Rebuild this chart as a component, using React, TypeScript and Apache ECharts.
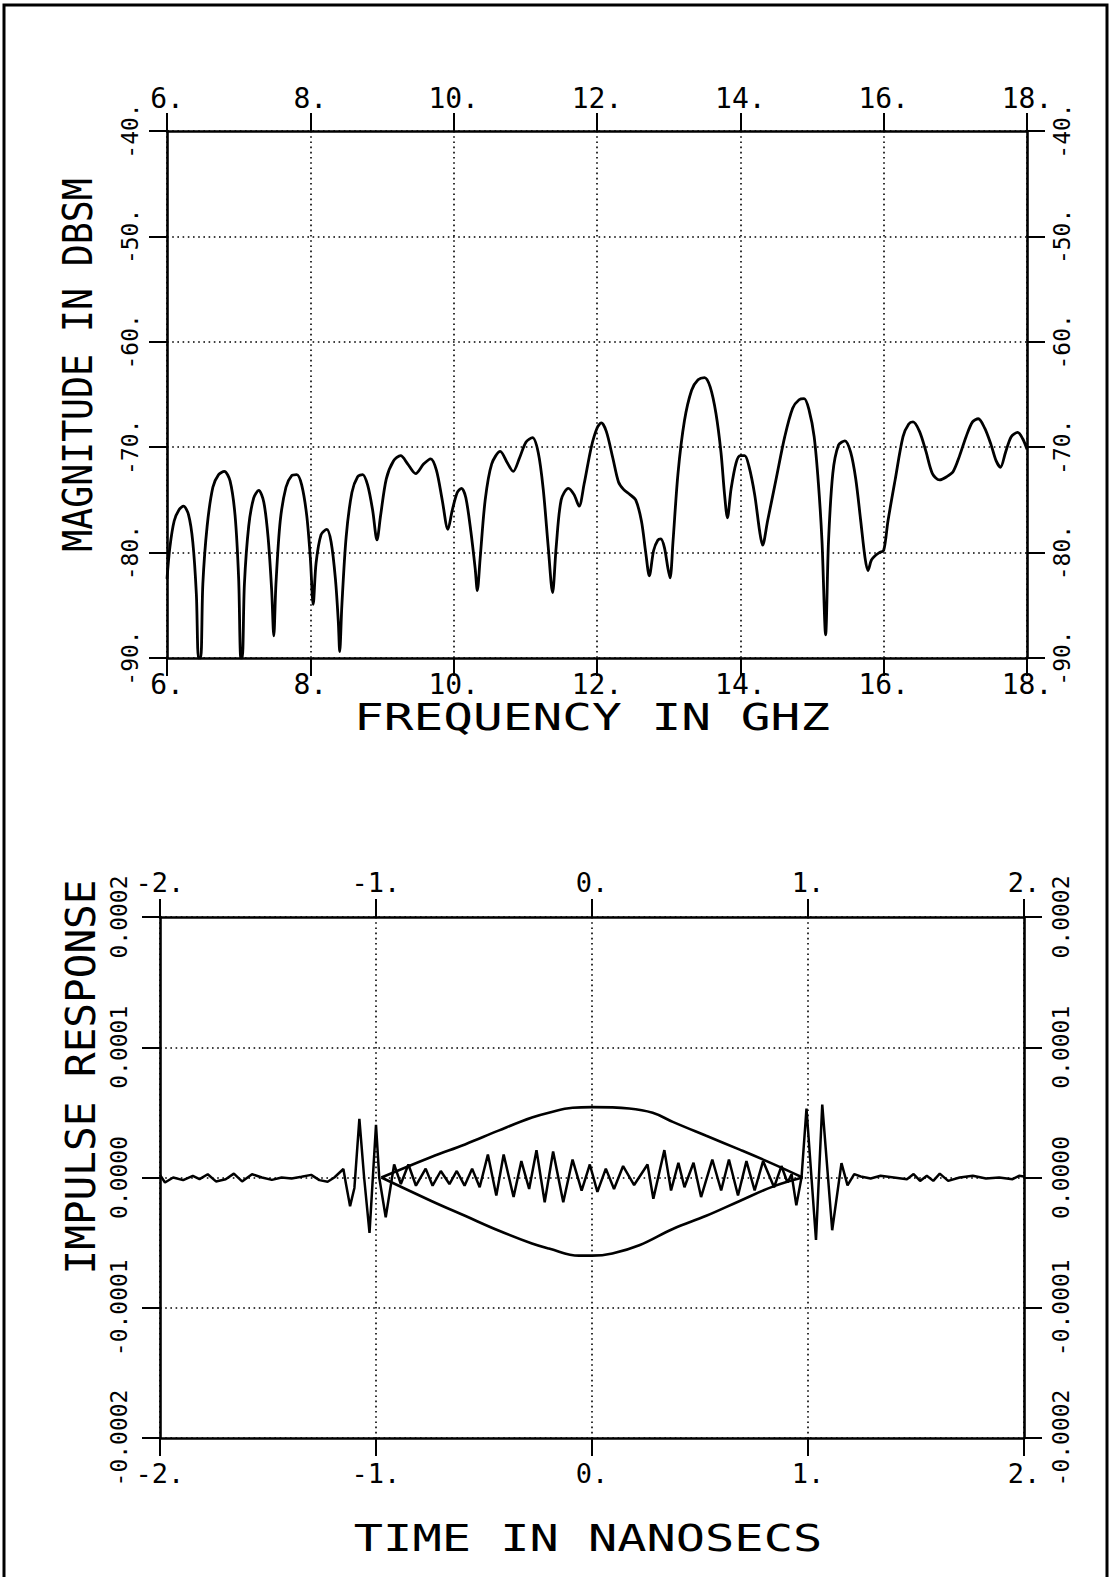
import React, { useEffect, useRef } from "react";
import * as echarts from "echarts";

const FONT = "'DejaVu Sans Mono', 'Liberation Mono', monospace";

// ---------- Top panel: magnitude vs frequency ----------
const freqGHz = [
  6.0, 6.04, 6.1, 6.17, 6.23, 6.3, 6.36, 6.41, 6.44, 6.47, 6.5, 6.56, 6.64, 6.72, 6.8, 6.88, 6.95, 7.0, 7.03, 7.05,
  7.08, 7.14, 7.21, 7.28, 7.35, 7.41, 7.46, 7.49, 7.52, 7.58, 7.66, 7.74, 7.81, 7.88, 7.95, 8.0, 8.04, 8.08, 8.15, 8.23,
  8.29, 8.35, 8.39, 8.41, 8.44, 8.5, 8.58, 8.66, 8.73, 8.8, 8.87, 8.93, 8.98, 9.06, 9.16, 9.26, 9.36, 9.47, 9.58, 9.68,
  9.76, 9.84, 9.92, 9.98, 10.05, 10.11, 10.17, 10.24, 10.3, 10.33, 10.37, 10.44, 10.53, 10.65, 10.75, 10.83, 10.92, 11.01, 11.1, 11.18,
  11.25, 11.32, 11.38, 11.43, 11.5, 11.6, 11.68, 11.75, 11.82, 11.92, 12.0, 12.06, 12.13, 12.22, 12.3, 12.37, 12.46, 12.54, 12.62, 12.68,
  12.73, 12.79, 12.85, 12.89, 12.94, 12.99, 13.02, 13.06, 13.13, 13.22, 13.32, 13.41, 13.5, 13.58, 13.66, 13.73, 13.78, 13.82, 13.87, 13.94,
  14.0, 14.06, 14.12, 14.2, 14.27, 14.31, 14.38, 14.5, 14.62, 14.73, 14.82, 14.89, 14.96, 15.03, 15.09, 15.14, 15.19, 15.23, 15.29, 15.37,
  15.46, 15.54, 15.61, 15.68, 15.74, 15.78, 15.83, 15.88, 15.94, 16.0, 16.06, 16.16, 16.27, 16.35, 16.41, 16.5, 16.59, 16.68, 16.78, 16.88,
  16.97, 17.06, 17.15, 17.24, 17.32, 17.41, 17.5, 17.57, 17.63, 17.7, 17.78, 17.87, 17.94, 18.0,
];
const magDbsm = [
  -82.5, -79.5, -77.0, -75.9, -75.6, -76.4, -79.0, -84.0, -90.0, -90.0, -83.0, -77.5, -73.8, -72.6, -72.3, -73.2, -76.5, -82.5, -90.0, -90.0,
  -83.0, -77.5, -74.8, -74.1, -75.2, -78.5, -83.5, -87.9, -83.0, -77.0, -73.8, -72.7, -72.6, -73.6, -76.5, -80.5, -84.9, -81.0, -78.3, -77.8,
  -79.0, -82.5, -86.5, -89.4, -85.0, -78.5, -74.3, -72.8, -72.6, -73.6, -76.0, -78.8, -76.5, -73.0, -71.3, -70.8, -71.6, -72.5, -71.6, -71.1,
  -72.2, -75.0, -77.8, -76.0, -74.3, -73.9, -74.8, -78.0, -81.5, -83.6, -80.5, -75.0, -71.6, -70.4, -71.5, -72.3, -71.0, -69.5, -69.1, -70.5,
  -74.0, -79.5, -83.8, -79.5, -75.0, -73.9, -74.5, -75.6, -73.5, -70.0, -68.2, -67.7, -68.5, -71.0, -73.3, -74.0, -74.5, -75.0, -77.0, -80.0,
  -82.2, -79.8, -78.8, -78.7, -79.5, -81.5, -82.4, -79.0, -72.5, -67.5, -64.6, -63.6, -63.4, -64.3, -66.8, -70.5, -74.5, -76.7, -74.0, -71.5,
  -70.8, -70.8, -71.8, -74.5, -78.0, -79.3, -77.0, -73.0, -69.0, -66.3, -65.5, -65.4, -66.5, -69.0, -73.5, -79.0, -87.8, -79.0, -72.5, -69.8,
  -69.4, -70.5, -73.0, -77.0, -80.5, -81.7, -80.7, -80.3, -80.0, -79.8, -77.0, -73.1, -69.0, -67.8, -67.6, -68.5, -70.4, -72.5, -73.1, -72.8,
  -72.3, -70.8, -69.0, -67.6, -67.3, -68.2, -69.8, -71.3, -71.9, -70.5, -69.0, -68.6, -69.2, -70.2,
];
const freqAxis = { min: 6, max: 18, step: 2 };
const magAxis = { min: -90, max: -40, step: 10 };

// ---------- Bottom panel: impulse response vs time ----------
const timeNs = [
  -2.0, -1.977, -1.939, -1.893, -1.848, -1.817, -1.779, -1.741, -1.696, -1.658, -1.62, -1.574, -1.528, -1.482, -1.437, -1.391, -1.345, -1.3, -1.262, -1.224,
  -1.193, -1.151, -1.14, -1.12, -1.1, -1.077, -1.055, -1.03, -1.0, -0.985, -0.955, -0.916, -0.885, -0.85, -0.815, -0.77, -0.738, -0.7, -0.66, -0.626,
  -0.59, -0.555, -0.52, -0.482, -0.443, -0.409, -0.363, -0.327, -0.291, -0.257, -0.219, -0.18, -0.133, -0.09, -0.048, -0.01, 0.025, 0.064, 0.102, 0.144,
  0.195, 0.257, 0.284, 0.335, 0.366, 0.4, 0.428, 0.47, 0.505, 0.557, 0.598, 0.634, 0.676, 0.715, 0.753, 0.792, 0.843, 0.877, 0.905, 0.924,
  0.946, 0.97, 0.993, 1.037, 1.066, 1.112, 1.155, 1.183, 1.214, 1.244, 1.29, 1.336, 1.397, 1.458, 1.489, 1.519, 1.55, 1.58, 1.61, 1.649,
  1.702, 1.763, 1.824, 1.885, 1.947, 1.977, 2.0,
];
const impulseResp = [
  2.0e-6, -3.8e-6, 0, -2.0e-6, 1.3e-6, -1.3e-6, 2.5e-6, -3.0e-6, -1.3e-6, 3.0e-6, -3.0e-6, 2.5e-6, 0, -1.8e-6, 0, -0.8e-6, 0.5e-6, 2.0e-6, -2.0e-6, -3.3e-6,
  0, 6.5e-6, -4.0e-6, -2.2e-5, -8.0e-6, 4.5e-5, 0, -4.25e-5, 4.05e-5, 0, -3.05e-5, 1.0e-5, -5.0e-6, 1.0e-5, -6.3e-6, 6.8e-6, -6.3e-6, 5.0e-6, -5.0e-6, 5.0e-6,
  -6.3e-6, 6.8e-6, -7.5e-6, 1.76e-5, -1.38e-5, 1.76e-5, -1.5e-5, 1.26e-5, -8.8e-6, 2.1e-5, -1.9e-5, 2.0e-5, -1.9e-5, 1.38e-5, -1.0e-5, 1.0e-5, -1.1e-5, 6.8e-6, -8.8e-6, 8.8e-6,
  -5.8e-6, 1.0e-5, -1.63e-5, 2.1e-5, -1.0e-5, 1.13e-5, -7.5e-6, 1.13e-5, -1.5e-5, 1.38e-5, -1.0e-5, 1.38e-5, -1.38e-5, 1.26e-5, -1.0e-5, 1.26e-5, -7.5e-6, 8.8e-6, -3.8e-6, 2.5e-6,
  -2.14e-5, 0, 5.3e-5, -4.8e-5, 5.6e-5, -4.05e-5, 1.1e-5, -6.0e-6, 2.6e-6, 0.8e-6, -0.8e-6, 1.3e-6, 0, -1.3e-6, 2.6e-6, -2.6e-6, 1.3e-6, -2.6e-6, 3.0e-6, -2.6e-6,
  0, 1.3e-6, -0.8e-6, 0, -1.3e-6, 1.3e-6, 0.8e-6,
];
const envUpperTime = [-0.975, -0.744, -0.588, -0.433, -0.278, -0.2, -0.09, 0.0, 0.172, 0.281, 0.374, 0.529, 0.684, 0.84, 0.975];
const envUpperResp = [0, 1.58e-5, 2.54e-5, 3.6e-5, 4.6e-5, 4.97e-5, 5.35e-5, 5.4e-5, 5.3e-5, 4.97e-5, 4.27e-5, 3.2e-5, 2.14e-5, 1.03e-5, 0];
const envLowerTime = [-0.975, -0.744, -0.588, -0.433, -0.278, -0.2, -0.06, 0.0, 0.094, 0.219, 0.374, 0.529, 0.684, 0.84, 0.975];
const envLowerResp = [0, -1.8e-5, -2.94e-5, -4.07e-5, -5.07e-5, -5.45e-5, -6.0e-5, -6.0e-5, -5.83e-5, -5.2e-5, -3.95e-5, -2.94e-5, -1.8e-5, -0.68e-5, 0];
const timeAxis = { min: -2, max: 2, step: 1 };
const respAxis = { min: -0.0002, max: 0.0002, step: 0.0001 };

// ---------- Titles ----------
const topXTitle = "FREQUENCY IN GHZ";
const topYTitle = "MAGNITUDE IN DBSM";
const botXTitle = "TIME IN NANOSECS";
const botYTitle = "IMPULSE RESPONSE";

const zip = (xs: number[], ys: number[]) => xs.map((x, i) => [x, ys[i]]);

const axisLine = { show: true, onZero: false, lineStyle: { color: "#000", width: 2.6 } };
const axisTick = { show: true, inside: false, length: 18, lineStyle: { color: "#000", width: 2 } };
const gridLine = { show: true, lineStyle: { color: "#000", width: 1.6, type: [1.6, 3.6] } };

function xAx(grid: number, pos: string, r: any, fs: number, margin: number, grid2: boolean, fmt: (v: number) => string) {
  return {
    type: "value", gridIndex: grid, position: pos, min: r.min, max: r.max, interval: r.step,
    axisLine, axisTick, splitLine: grid2 ? gridLine : { show: false },
    axisLabel: { show: true, margin, color: "#000", fontFamily: FONT, fontSize: fs, formatter: fmt },
  };
}
function yAx(grid: number, pos: string, r: any, fs: number, margin: number, grid2: boolean, fmt: (v: number) => string) {
  return {
    type: "value", gridIndex: grid, position: pos, min: r.min, max: r.max, interval: r.step,
    axisLine, axisTick, splitLine: grid2 ? gridLine : { show: false },
    axisLabel: { show: true, rotate: 90, margin, color: "#000", fontFamily: FONT, fontSize: fs, formatter: fmt },
  };
}

const dotFmt = (v: number) => `${Math.round(v)}.`;
const respFmt = (v: number) => (Math.abs(v) < 1e-9 ? "0.0000" : v.toFixed(4));

function title(text: string, x: number, y: number, fs: number, sx: number, vertical: boolean) {
  return {
    type: "text", x, y, rotation: vertical ? Math.PI / 2 : 0, scaleX: sx, scaleY: 1,
    style: {
      text, fill: "#000", fontFamily: FONT, fontSize: fs,
      align: "center", verticalAlign: "middle", textAlign: "center", textVerticalAlign: "middle",
    },
  };
}

export default function App() {
  const ref = useRef<HTMLDivElement>(null);
  useEffect(() => {
    if (!ref.current) return;
    const chart = echarts.init(ref.current, undefined, { renderer: "svg" });
    const lineStyle = (w: number) => ({ color: "#000", width: w });
    chart.setOption({
      animation: false,
      backgroundColor: "#fff",
      grid: [
        { left: 167, top: 131, width: 860, height: 527 },
        { left: 160, top: 917, width: 864, height: 521 },
      ],
      xAxis: [
        xAx(0, "bottom", freqAxis, 28, 12, true, dotFmt),
        xAx(0, "top", freqAxis, 28, 19, false, dotFmt),
        xAx(1, "bottom", timeAxis, 27, 22, true, dotFmt),
        xAx(1, "top", timeAxis, 27, 21, false, dotFmt),
      ],
      yAxis: [
        yAx(0, "left", magAxis, 23, 26, true, dotFmt),
        yAx(0, "right", magAxis, 23, 23, false, dotFmt),
        yAx(1, "left", respAxis, 23, 30, true, respFmt),
        yAx(1, "right", respAxis, 23, 25, false, respFmt),
      ],
      series: [
        {
          type: "line", xAxisIndex: 0, yAxisIndex: 0, data: zip(freqGHz, magDbsm),
          showSymbol: false, smooth: 0.3, clip: true, lineStyle: lineStyle(2.8),
        },
        {
          type: "line", xAxisIndex: 2, yAxisIndex: 2, data: zip(timeNs, impulseResp),
          showSymbol: false, smooth: false, clip: true, lineStyle: lineStyle(2.5),
        },
        {
          type: "line", xAxisIndex: 2, yAxisIndex: 2, data: zip(envUpperTime, envUpperResp),
          showSymbol: false, smooth: 0.4, clip: true, lineStyle: lineStyle(2.6),
        },
        {
          type: "line", xAxisIndex: 2, yAxisIndex: 2, data: zip(envLowerTime, envLowerResp),
          showSymbol: false, smooth: 0.4, clip: true, lineStyle: lineStyle(2.6),
        },
      ],
      graphic: [
        {
          type: "polyline",
          shape: { points: [[4, 1577], [4, 5], [1107, 5], [1107, 1577]] },
          style: { stroke: "#000", lineWidth: 3, fill: null },
        },
        title(topYTitle, 78, 365, 41, 0.89, true),
        title(topXTitle, 592, 717, 38, 1.3, false),
        title(botYTitle, 81, 1077, 41, 1.0, true),
        title(botXTitle, 588, 1538, 38, 1.28, false),
      ],
    });
    return () => chart.dispose();
  }, []);
  return <div ref={ref} style={{ position: "absolute", left: 0, top: 0, width: 1111, height: 1577 }} />;
}
